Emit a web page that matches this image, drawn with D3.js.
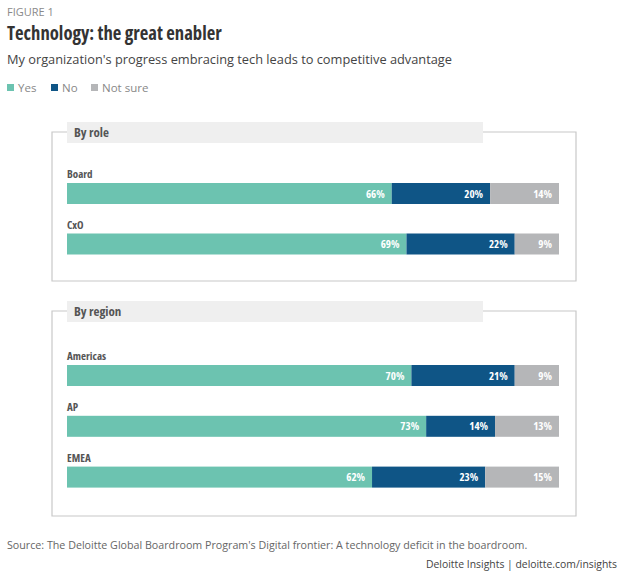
<!DOCTYPE html>
<html>
<head>
<meta charset="utf-8">
<script src="https://cdn.jsdelivr.net/npm/d3@7"></script>
<style>
  body { margin: 0; background: #fff; }
  svg { font-family: "Open Sans", sans-serif; }
  .cond { font-stretch: condensed; }
</style>
</head>
<body>
<div id="chart"></div>
<script>
// answer categories and colours
const answers = ["Yes", "No", "Not sure"];
const colors = ["#6cc3b0", "#0f5586", "#b5b6b8"];

// By role
const roleLabels = ["Board", "CxO"];
const roleYes = [66, 69];
const roleNo = [20, 22];
const roleNotSure = [14, 9];

// By region
const regionLabels = ["Americas", "AP", "EMEA"];
const regionYes = [70, 73, 62];
const regionNo = [21, 14, 23];
const regionNotSure = [9, 13, 15];

const width = 625, height = 579;

const svg = d3.select("#chart")
              .append("svg")
              .attr("width", width)
              .attr("height", height);

// ----------------------
// header texts
// ----------------------
svg.append("text")
   .attr("x", 7).attr("y", 16)
   .style("font-size", "11px").attr("fill", "#8a8a8a")
   .text("FIGURE 1");

svg.append("text")
   .attr("class", "cond")
   .attr("x", 7).attr("y", 40)
   .style("font-size", "18.7px").style("font-weight", "bold").attr("fill", "#333")
   .text("Technology: the great enabler");

svg.append("text")
   .attr("x", 7).attr("y", 64)
   .style("font-size", "12.8px").attr("fill", "#444")
   .text("My organization's progress embracing tech leads to competitive advantage");

// legend
const legend = svg.append("g").attr("transform", "translate(7,92)");
const legendX = [0, 44, 84];
answers.forEach((a, i) => {
    const g = legend.append("g").attr("transform", `translate(${legendX[i]},0)`);
    g.append("rect").attr("x", 0).attr("y", -8).attr("width", 7).attr("height", 7).attr("fill", colors[i]);
    g.append("text").attr("x", 11).attr("y", 0)
     .style("font-size", "11.5px").attr("fill", "#888").text(a);
});

// ----------------------
// panels
// ----------------------
const x = d3.scaleLinear().domain([0, 100]).range([67, 559]);

function panel(opts) {
    const { title, labels, yes, no, notSure, top, bottom, bandEnd, rowStart, rowStep } = opts;
    const left = 52, right = 576;

    // outline (gap where the title band sits)
    svg.append("path")
       .attr("d", `M${bandEnd},${top} H${right} V${bottom} H${left} V${top} H67`)
       .attr("fill", "none").attr("stroke", "#c8c8c8").attr("stroke-width", 1.2);

    svg.append("rect")
       .attr("x", 67).attr("y", top - 10)
       .attr("width", bandEnd - 67).attr("height", 21)
       .attr("fill", "#efefef");

    svg.append("text")
       .attr("class", "cond")
       .attr("x", 74).attr("y", top + 5)
       .style("font-size", "13px").style("font-weight", "bold").attr("fill", "#555")
       .text(title);

    const data = labels.map((l, i) => ({ label: l, "Yes": yes[i], "No": no[i], "Not sure": notSure[i] }));
    const series = d3.stack().keys(answers)(data);

    const y = d3.scaleBand()
                .domain(labels)
                .range([rowStart, rowStart + rowStep * labels.length])
                .paddingInner(0);

    const barH = 21;

    svg.append("g").selectAll("text")
       .data(labels).join("text")
       .attr("class", "cond")
       .attr("x", 67).attr("y", d => y(d) - 5)
       .style("font-size", "11px").style("font-weight", "bold").attr("fill", "#555")
       .text(d => d);

    const groups = svg.append("g").selectAll("g")
       .data(series).join("g")
       .attr("fill", (d, i) => colors[i]);

    groups.selectAll("rect")
       .data(d => d).join("rect")
       .attr("x", d => x(d[0]))
       .attr("width", d => x(d[1]) - x(d[0]))
       .attr("y", d => y(d.data.label))
       .attr("height", barH);

    groups.selectAll("text")
       .data(d => d.map(v => ({ v, key: d.key }))).join("text")
       .attr("class", "cond")
       .attr("x", d => x(d.v[1]) - 7)
       .attr("y", d => y(d.v.data.label) + barH / 2 + 4)
       .attr("text-anchor", "end")
       .style("font-size", "11px").style("font-weight", "bold").attr("fill", "#fff")
       .text(d => `${d.v.data[d.key]}%`);
}

panel({ title: "By role", labels: roleLabels, yes: roleYes, no: roleNo, notSure: roleNotSure,
        top: 132, bottom: 281, bandEnd: 483, rowStart: 183, rowStep: 50.5 });

panel({ title: "By region", labels: regionLabels, yes: regionYes, no: regionNo, notSure: regionNotSure,
        top: 311, bottom: 516, bandEnd: 483, rowStart: 365, rowStep: 50.8 });

// ----------------------
// footer
// ----------------------
svg.append("text")
   .attr("x", 7).attr("y", 549)
   .style("font-size", "10.7px").attr("fill", "#666")
   .text("Source: The Deloitte Global Boardroom Program's Digital frontier: A technology deficit in the boardroom.");

svg.append("text")
   .attr("x", 617).attr("y", 568)
   .attr("text-anchor", "end")
   .style("font-size", "10.4px").attr("fill", "#444")
   .text("Deloitte Insights | deloitte.com/insights");
</script>
</body>
</html>
